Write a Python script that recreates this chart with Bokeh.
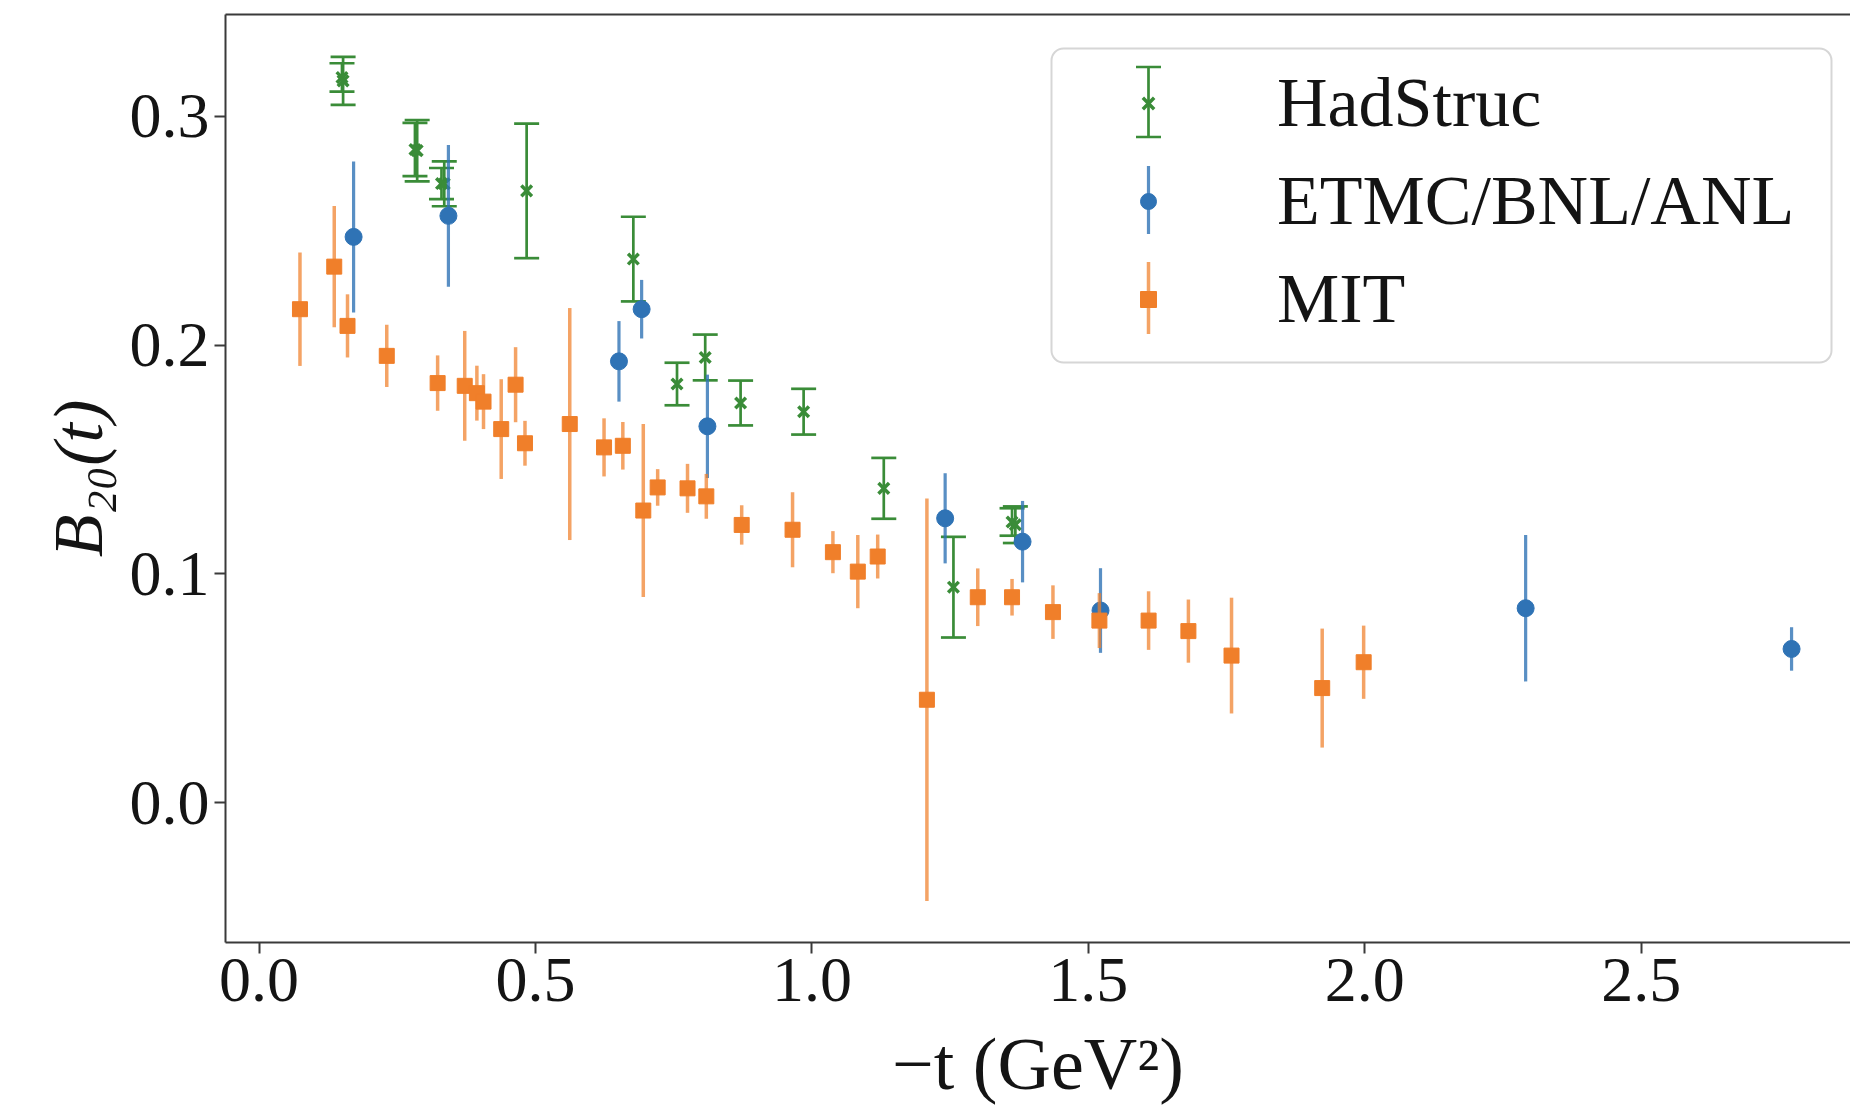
import numpy as np
from bokeh.plotting import figure
from bokeh.models import (ColumnDataSource, Range1d, FixedTicker, LinearAxis,
                          Legend, LegendItem, BoxAnnotation)
from bokeh.embed import file_html
from bokeh.resources import INLINE

# ---------------- data ----------------
# HadStruc
had_t = [0.150, 0.152, 0.282, 0.286, 0.330, 0.335, 0.484, 0.677, 0.756, 0.807,
         0.871, 0.985, 1.130, 1.256, 1.362, 1.368]
had_b = [0.3170, 0.3155, 0.2855, 0.2850, 0.2706, 0.2705, 0.2674, 0.2376, 0.1830, 0.1946,
         0.1747, 0.1709, 0.1374, 0.0942, 0.1227, 0.1215]
had_err = [0.0062, 0.0105, 0.0116, 0.0134, 0.0068, 0.0098, 0.0294, 0.0185, 0.0093, 0.0100,
           0.0098, 0.0100, 0.0133, 0.0220, 0.0060, 0.0080]

# ETMC/BNL/ANL
etmc_t = [0.171, 0.3425, 0.651, 0.692, 0.811, 1.241, 1.381, 1.522, 2.291, 2.772]
etmc_b = [0.2473, 0.2565, 0.1929, 0.2157, 0.1645, 0.1243, 0.1141, 0.0840, 0.0850, 0.0672]
etmc_err = [0.0330, 0.0310, 0.0176, 0.0128, 0.0226, 0.0197, 0.0178, 0.0185, 0.0320, 0.0095]

# MIT
mit_t = [0.074, 0.136, 0.160, 0.231, 0.323, 0.372, 0.394, 0.406, 0.438, 0.464,
         0.481, 0.562, 0.624, 0.658, 0.695, 0.721, 0.775, 0.809, 0.873, 0.965,
         1.038, 1.083, 1.119, 1.208, 1.300, 1.362, 1.436, 1.520, 1.609, 1.681,
         1.759, 1.923, 1.998]
mit_b = [0.2157, 0.2343, 0.2084, 0.1953, 0.1834, 0.1822, 0.1790, 0.1753, 0.1633, 0.1827,
         0.1571, 0.1655, 0.1553, 0.1560, 0.1277, 0.1378, 0.1374, 0.1339, 0.1214, 0.1193,
         0.1095, 0.1010, 0.1076, 0.0450, 0.0898, 0.0898, 0.0833, 0.0796, 0.0796, 0.0750,
         0.0643, 0.0501, 0.0614]
mit_err = [0.0248, 0.0265, 0.0138, 0.0136, 0.0121, 0.0240, 0.0120, 0.0120, 0.0218, 0.0164,
           0.0098, 0.0507, 0.0127, 0.0104, 0.0378, 0.0080, 0.0107, 0.0098, 0.0086, 0.0164,
           0.0092, 0.0160, 0.0096, 0.0880, 0.0126, 0.0080, 0.0117, 0.0120, 0.0128, 0.0138,
           0.0253, 0.0260, 0.0160]

series_labels = ["HadStruc", "ETMC/BNL/ANL", "MIT"]
x_ticks = [0.0, 0.5, 1.0, 1.5, 2.0, 2.5]
x_tick_labels = ["0.0", "0.5", "1.0", "1.5", "2.0", "2.5"]
y_ticks = [0.0, 0.1, 0.2, 0.3]
y_tick_labels = ["0.0", "0.1", "0.2", "0.3"]
x_label = "\u2212t (GeV\u00b2)"
y_label = "B\u2082\u2080(t)"

# ---------------- style ----------------
GREEN = "#3a8c38"
BLUE = "#2f73b5"
ORANGE = "#f07f2a"
AXIS_COLOR = "#3a3a3a"
TEXT_COLOR = "#141414"
FONT = "Liberation Serif"

p = figure(width=1850, height=1107,
           x_range=Range1d(-0.0607, 2.8786), y_range=Range1d(-0.0611, 0.3445),
           output_backend="svg", toolbar_location=None,
           min_border_left=225, min_border_right=0,
           min_border_top=14, min_border_bottom=160)
p.outline_line_color = None
p.grid.visible = False
p.background_fill_color = "white"
p.border_fill_color = "white"

for ax in (p.xaxis[0], p.yaxis[0]):
    ax.axis_line_color = AXIS_COLOR
    ax.axis_line_width = 2
    ax.major_tick_line_color = AXIS_COLOR
    ax.major_tick_line_width = 2
    ax.major_tick_out = 11
    ax.major_tick_in = 0
    ax.minor_tick_line_color = None
    ax.major_label_text_font = FONT
    ax.major_label_text_font_size = "64px"
    ax.major_label_text_color = TEXT_COLOR
    ax.axis_label_text_font = FONT
    ax.axis_label_text_font_size = "70px"
    ax.axis_label_text_color = TEXT_COLOR

p.xaxis[0].ticker = FixedTicker(ticks=x_ticks)
p.xaxis[0].major_label_overrides = dict(zip(x_ticks, x_tick_labels))
p.xaxis[0].major_label_standoff = 5
p.xaxis[0].axis_label = x_label
p.xaxis[0].axis_label_text_font_style = "normal"
p.xaxis[0].axis_label_text_font_size = "74px"
p.xaxis[0].axis_label_standoff = 19

p.yaxis[0].ticker = FixedTicker(ticks=y_ticks)
p.yaxis[0].major_label_overrides = dict(zip(y_ticks, y_tick_labels))
p.yaxis[0].major_label_standoff = 5
p.yaxis[0].axis_label = y_label
p.yaxis[0].axis_label_text_font_style = "italic"
p.yaxis[0].axis_label_standoff = 10

# top spine
top_axis = LinearAxis(ticker=FixedTicker(ticks=[]), axis_line_color=AXIS_COLOR,
                      axis_line_width=2, major_tick_out=0, major_tick_in=0,
                      minor_tick_out=0, minor_tick_in=0, major_label_standoff=0,
                      major_tick_line_color=None, minor_tick_line_color=None,
                      major_label_text_font_size="0px")
p.add_layout(top_axis, "above")


def make_source(t, b, err):
    t = np.asarray(t); b = np.asarray(b); e = np.asarray(err)
    return ColumnDataSource(dict(t=t, b=b, lo=b - e, hi=b + e))


# HadStruc: error bars with caps, x markers
src_h = make_source(had_t, had_b, had_err)
p.segment(x0="t", y0="lo", x1="t", y1="hi", source=src_h,
          line_color=GREEN, line_width=2.7)
p.scatter(x="t", y="lo", source=src_h, marker="dash", size=25,
          line_color=GREEN, line_width=2.7)
p.scatter(x="t", y="hi", source=src_h, marker="dash", size=25,
          line_color=GREEN, line_width=2.7)
r_had = p.scatter(x="t", y="b", source=src_h, marker="x", size=15,
                  line_color=GREEN, line_width=3.5)

# ETMC/BNL/ANL: circles
src_e = make_source(etmc_t, etmc_b, etmc_err)
p.segment(x0="t", y0="lo", x1="t", y1="hi", source=src_e,
          line_color=BLUE, line_width=3.2, line_alpha=0.8)
r_etmc = p.scatter(x="t", y="b", source=src_e, marker="circle", size=17,
                   fill_color=BLUE, line_color=BLUE, line_width=1)

# MIT: squares
src_m = make_source(mit_t, mit_b, mit_err)
p.segment(x0="t", y0="lo", x1="t", y1="hi", source=src_m,
          line_color=ORANGE, line_width=3.5, line_alpha=0.72)
r_mit = p.scatter(x="t", y="b", source=src_m, marker="square", size=15,
                  fill_color=ORANGE, line_color=ORANGE, line_width=1)

# ---------------- legend ----------------
def sbox(left, right, bottom, top, **kw):
    return BoxAnnotation(left=left, right=right, bottom=bottom, top=top,
                         left_units="screen", right_units="screen",
                         bottom_units="screen", top_units="screen", **kw)

# legend frame
p.add_layout(sbox(826, 1606, 580, 894, fill_color="white", fill_alpha=0.85,
                  line_color="#d6d6d6", line_width=2, line_alpha=1,
                  border_radius=12))

LEG_X = 923
ROW_Y = [840.5, 742.5, 644.5]
# vertical error bars drawn in the legend
p.add_layout(sbox(LEG_X - 1.35, LEG_X + 1.35, ROW_Y[0] - 35, ROW_Y[0] + 35,
                  fill_color=GREEN, fill_alpha=1, line_color=None))
for yy in (ROW_Y[0] - 35, ROW_Y[0] + 35):
    p.add_layout(sbox(LEG_X - 12.5, LEG_X + 12.5, yy - 1.35, yy + 1.35,
                      fill_color=GREEN, fill_alpha=1, line_color=None))
p.add_layout(sbox(LEG_X - 1.6, LEG_X + 1.6, ROW_Y[1] - 34, ROW_Y[1] + 34,
                  fill_color=BLUE, fill_alpha=0.8, line_color=None))
p.add_layout(sbox(LEG_X - 1.75, LEG_X + 1.75, ROW_Y[2] - 36, ROW_Y[2] + 36,
                  fill_color=ORANGE, fill_alpha=0.72, line_color=None))

legend = Legend(items=[LegendItem(label=series_labels[0], renderers=[r_had]),
                       LegendItem(label=series_labels[1], renderers=[r_etmc]),
                       LegendItem(label=series_labels[2], renderers=[r_mit])],
                location=(LEG_X - 20, 594),
                glyph_width=40, glyph_height=98, label_height=98,
                label_standoff=109, spacing=0, padding=0,
                background_fill_alpha=0, border_line_color=None,
                label_text_font=FONT, label_text_font_size="70px",
                label_text_color=TEXT_COLOR)
p.add_layout(legend)

open("out.html", "w").write(file_html(p, INLINE))
